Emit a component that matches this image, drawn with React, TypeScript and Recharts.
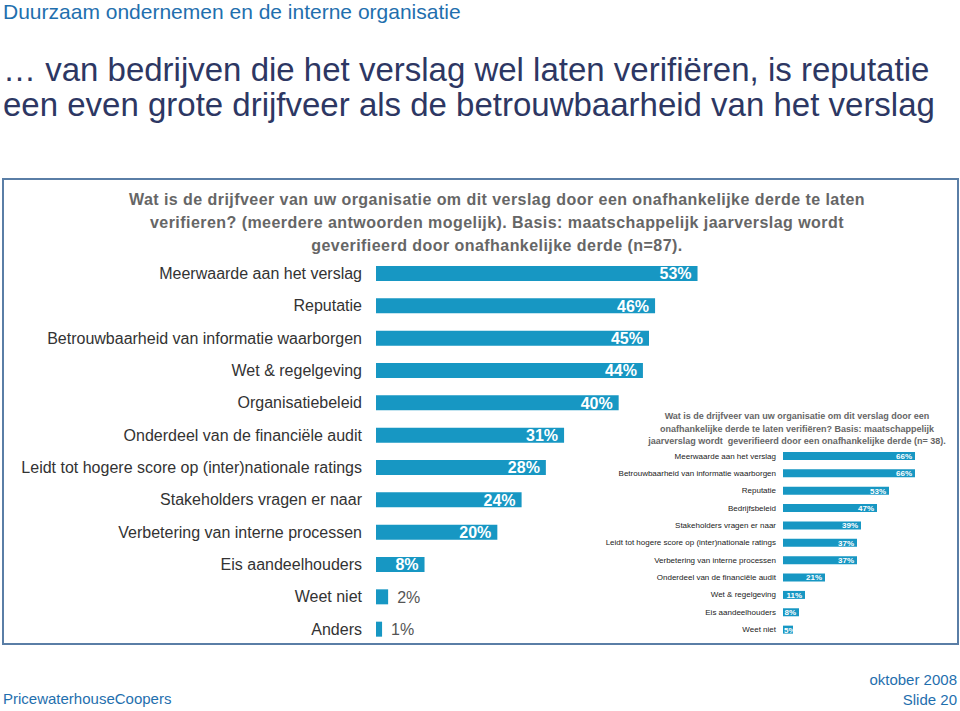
import React from 'react';
import { BarChart, Bar, XAxis, YAxis, LabelList } from 'recharts';

// Main chart (n=87)
const mainLabels = [
  'Meerwaarde aan het verslag',
  'Reputatie',
  'Betrouwbaarheid van informatie waarborgen',
  'Wet & regelgeving',
  'Organisatiebeleid',
  'Onderdeel van de financiële audit',
  'Leidt tot hogere score op (inter)nationale ratings',
  'Stakeholders vragen er naar',
  'Verbetering van interne processen',
  'Eis aandeelhouders',
  'Weet niet',
  'Anders',
];
const mainValues = [53, 46, 45, 44, 40, 31, 28, 24, 20, 8, 2, 1];

// Inset chart (n=38)
const insetLabels = [
  'Meerwaarde aan het verslag',
  'Betrouwbaarheid van informatie waarborgen',
  'Reputatie',
  'Bedrijfsbeleid',
  'Stakeholders vragen er naar',
  'Leidt tot hogere score op (inter)nationale ratings',
  'Verbetering van interne processen',
  'Onderdeel van de financiële audit',
  'Wet & regelgeving',
  'Eis aandeelhouders',
  'Weet niet',
];
const insetValues = [66, 66, 53, 47, 39, 37, 37, 21, 11, 8, 5];

const BAR_COLOR = '#1797c3';
const FONT = '"Liberation Sans", Arial, sans-serif';

const mainData = mainLabels.map((name, i) => ({ name, value: mainValues[i] }));
const insetData = insetLabels.map((name, i) => ({ name, value: insetValues[i] }));

// plain svg text so long labels never wrap
const makeTick = (fontSize: number, fill: string) => (props: any) => (
  <text
    x={props.x}
    y={props.y}
    dy="0.36em"
    textAnchor="end"
    fontSize={fontSize}
    fill={fill}
    fontFamily={FONT}
  >
    {props.payload.value}
  </text>
);

const MainLabel = (props: any) => {
  const x = Number(props.x);
  const y = Number(props.y);
  const w = Number(props.width);
  const h = Number(props.height);
  const v = Number(props.value);
  const inside = v >= 5;
  return (
    <text
      x={inside ? x + w - 6 : x + w + 9}
      y={y + h / 2}
      dy="0.36em"
      textAnchor={inside ? 'end' : 'start'}
      fill={inside ? '#ffffff' : '#555555'}
      fontWeight={inside ? 'bold' : 'normal'}
      fontSize={16}
      fontFamily={FONT}
    >
      {v}%
    </text>
  );
};

const InsetLabel = (props: any) => {
  const x = Number(props.x);
  const y = Number(props.y);
  const w = Number(props.width);
  const h = Number(props.height);
  // tiny bars: start the label at the bar's left edge
  const small = w < 14;
  return (
    <text
      x={small ? x + 1 : x + w - 3}
      y={y + h / 2}
      dy="0.36em"
      textAnchor={small ? 'start' : 'end'}
      fill="#ffffff"
      fontWeight="bold"
      fontSize={8}
      fontFamily={FONT}
    >
      {props.value}%
    </text>
  );
};

const abs = (left: number, top: number, extra: React.CSSProperties = {}): React.CSSProperties => ({
  position: 'absolute',
  left,
  top,
  ...extra,
});

export default function App() {
  return (
    <div
      style={{
        position: 'absolute',
        left: 0,
        top: 0,
        width: 960,
        height: 711,
        background: '#ffffff',
        fontFamily: FONT,
        overflow: 'hidden',
      }}
    >
      <div style={abs(3, 1, { fontSize: 21, lineHeight: '22px', color: '#1f6fae', whiteSpace: 'nowrap' })}>
        Duurzaam ondernemen en de interne organisatie
      </div>
      <div style={abs(3, 52, { fontSize: 33, lineHeight: '35px', color: '#2d3763', whiteSpace: 'nowrap' })}>
        … van bedrijven die het verslag wel laten verifiëren, is reputatie
        <br />
        een even grote drijfveer als de betrouwbaarheid van het verslag
      </div>

      {/* question box */}
      <div
        style={abs(2, 178, {
          width: 953,
          height: 463,
          border: '2px solid #5a7ea6',
        })}
      />
      {[
        'Wat is de drijfveer van uw organisatie om dit verslag door een onafhankelijke derde te laten',
        'verifieren? (meerdere antwoorden mogelijk). Basis: maatschappelijk jaarverslag wordt',
        'geverifieerd door onafhankelijke derde (n=87).',
      ].map((line, i) => (
        <div
          key={i}
          style={abs(47, 191 + i * 23, {
            width: 900,
            textAlign: 'center',
            fontSize: 16,
            letterSpacing: 0.45,
            lineHeight: '18px',
            fontWeight: 'bold',
            color: '#666666',
            whiteSpace: 'nowrap',
          })}
        >
          {line}
        </div>
      ))}

      <div style={abs(0, 257)}>
        <BarChart
          width={740}
          height={388}
          data={mainData}
          layout="vertical"
          margin={{ top: 0, right: 0, bottom: 0, left: 0 }}
          barSize={15}
        >
          <XAxis type="number" domain={[0, 60]} hide />
          <YAxis
            type="category"
            dataKey="name"
            width={376}
            axisLine={false}
            tickLine={false}
            tickSize={0}
            tickMargin={14}
            interval={0}
            tick={makeTick(16, '#333333')}
          />
          <Bar dataKey="value" fill={BAR_COLOR} isAnimationActive={false}>
            <LabelList dataKey="value" content={<MainLabel />} />
          </Bar>
        </BarChart>
      </div>

      {/* inset chart */}
      {[
        'Wat is de drijfveer van uw organisatie om dit verslag door een',
        'onafhankelijke derde te laten verifiëren? Basis: maatschappelijk',
        'jaarverslag wordt  geverifieerd door een onafhankelijke derde (n= 38).',
      ].map((line, i) => (
        <div
          key={i}
          style={abs(647, 410 + i * 12.5, {
            width: 300,
            textAlign: 'center',
            fontSize: 9,
            lineHeight: '12px',
            fontWeight: 'bold',
            color: '#666666',
            whiteSpace: 'pre',
          })}
        >
          {line}
        </div>
      ))}
      <div style={abs(600, 447)}>
        <BarChart
          width={323}
          height={191}
          data={insetData}
          layout="vertical"
          margin={{ top: 0, right: 0, bottom: 0, left: 0 }}
          barSize={8}
        >
          <XAxis type="number" domain={[0, 70]} hide />
          <YAxis
            type="category"
            dataKey="name"
            width={183}
            axisLine={false}
            tickLine={false}
            tickSize={0}
            tickMargin={7}
            interval={0}
            tick={makeTick(8, '#222222')}
          />
          <Bar dataKey="value" fill={BAR_COLOR} isAnimationActive={false}>
            <LabelList dataKey="value" content={<InsetLabel />} />
          </Bar>
        </BarChart>
      </div>

      {/* footer */}
      <div style={abs(3, 690, { fontSize: 15, color: '#1f6fae' })}>PricewaterhouseCoopers</div>
      <div style={abs(757, 670, { width: 200, textAlign: 'right', fontSize: 15, lineHeight: '20px', color: '#1f6fae' })}>
        oktober 2008
        <br />
        Slide 20
      </div>
    </div>
  );
}
